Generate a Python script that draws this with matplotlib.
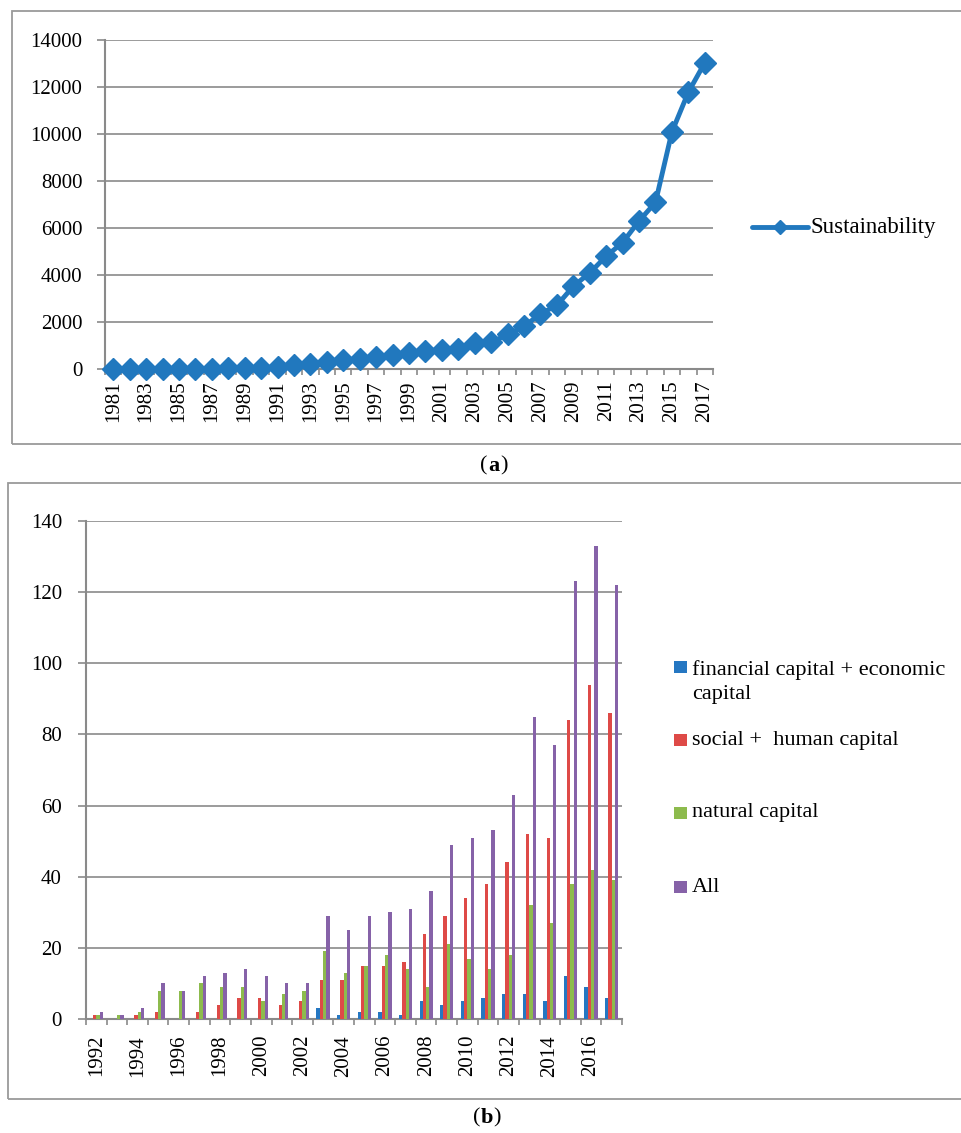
import matplotlib
matplotlib.use("Agg")
import matplotlib.pyplot as plt
import numpy as np
from matplotlib.patches import Rectangle
from matplotlib.lines import Line2D

plt.rcParams['font.family'] = ['Liberation Serif', 'DejaVu Serif']

# ---------------- data ----------------
years_a = [1981, 1982, 1983, 1984, 1985, 1986, 1987, 1988, 1989, 1990,
           1991, 1992, 1993, 1994, 1995, 1996, 1997, 1998, 1999, 2000,
           2001, 2002, 2003, 2004, 2005, 2006, 2007, 2008, 2009, 2010,
           2011, 2012, 2013, 2014, 2015, 2016, 2017]
sustainability = [5, 8, 10, 12, 15, 18, 20, 25, 30, 40,
                  100, 170, 210, 290, 390, 430, 530, 600, 670, 780,
                  810, 850, 1110, 1130, 1470, 1810, 2350, 2710, 3520, 4090,
                  4800, 5380, 6300, 7090, 10090, 11780, 13030]
yticks_a = [0, 2000, 4000, 6000, 8000, 10000, 12000, 14000]

years_b = [1992, 1993, 1994, 1995, 1996, 1997, 1998, 1999, 2000, 2001,
           2002, 2003, 2004, 2005, 2006, 2007, 2008, 2009, 2010, 2011,
           2012, 2013, 2014, 2015, 2016, 2017]
financial = [0, 0, 0, 0, 0, 0, 0, 0, 0, 0, 0, 3, 1, 2, 2, 1, 5, 4, 5, 6, 7, 7, 5, 12, 9, 6]
social = [1, 0, 1, 2, 0, 2, 4, 6, 6, 4, 5, 11, 11, 15, 15, 16, 24, 29, 34, 38, 44, 52, 51, 84, 94, 86]
natural = [1, 1, 2, 8, 8, 10, 9, 9, 5, 7, 8, 19, 13, 15, 18, 14, 9, 21, 17, 14, 18, 32, 27, 38, 42, 39]
all_caps = [2, 1, 3, 10, 8, 12, 13, 14, 12, 10, 10, 29, 25, 29, 30, 31, 36, 49, 51, 53, 63, 85, 77, 123, 133, 122]
yticks_b = [0, 20, 40, 60, 80, 100, 120, 140]
series_names = ['financial capital + economic\ncapital', 'social +  human capital',
                'natural capital', 'All']

# ---------------- style ----------------
W, H = 961, 1133
GRID = '#8a8a8a'
BOX = '#9a9a9a'
LINE_C = '#2178BE'
BAR_COLORS = ['#2577C2', '#DE4A47', '#8DBB4D', '#8662A8']
FS = 15

fig = plt.figure(figsize=(W / 100, H / 100), dpi=100)

def fx(x):
    return x / W

def fy(y):
    return 1 - y / H

# panel boxes (right edges run off the page as in the reference)
fig.patches.append(Rectangle((fx(12), fy(444)), fx(980) - fx(12), fy(11) - fy(444),
                             transform=fig.transFigure, fill=False, edgecolor=BOX, lw=1.3))
fig.patches.append(Rectangle((fx(8), fy(1099)), fx(980) - fx(8), fy(483) - fy(1099),
                             transform=fig.transFigure, fill=False, edgecolor=BOX, lw=1.3))

def style_axes(ax):
    for s in ['top', 'right']:
        ax.spines[s].set_visible(False)
    for s in ['left', 'bottom']:
        ax.spines[s].set_color(GRID)
        ax.spines[s].set_linewidth(1.5)
    ax.yaxis.grid(True, color=GRID, lw=1.2)
    ax.set_axisbelow(True)
    ax.tick_params(axis='y', which='major', length=5.8, width=1.2, color=GRID,
                   labelsize=FS, pad=10.5)
    ax.tick_params(axis='x', which='minor', length=4.5, width=1.2, color=GRID)

def panel_label(xc, y, letter):
    fig.text(fx(xc - 6.5), fy(y), '(', fontsize=16, ha='right', va='center')
    fig.text(fx(xc), fy(y), letter, fontsize=16, ha='center', va='center', fontweight='bold')
    fig.text(fx(xc + 6.5), fy(y), ')', fontsize=16, ha='left', va='center')

# ---------------- panel (a) ----------------
axa = fig.add_axes([fx(105), fy(369), fx(713) - fx(105), fy(40) - fy(369)])
xa = np.arange(len(years_a))
axa.plot(xa, sustainability, color=LINE_C, lw=3.5, marker='D', markersize=11.5,
         markerfacecolor=LINE_C, markeredgecolor=LINE_C, clip_on=False, zorder=3)
axa.set_xlim(-0.5, len(years_a) - 0.5)
axa.set_ylim(0, 14000)
axa.set_yticks(yticks_a)
axa.set_yticklabels([str(v) for v in yticks_a])
axa.set_xticks(xa[::2])
axa.set_xticklabels([str(y) for y in years_a[::2]], rotation=90, fontsize=FS)
axa.set_xticks(np.arange(len(years_a) + 1) - 0.5, minor=True)
axa.tick_params(axis='x', which='major', length=0, pad=8)
style_axes(axa)

# legend (a)
ly = fy(227)
fig.lines.append(Line2D([fx(752), fx(808)], [ly, ly], transform=fig.transFigure,
                        color=LINE_C, lw=3.5, solid_capstyle='round'))
fig.lines.append(Line2D([fx(780)], [ly], transform=fig.transFigure, color=LINE_C,
                        marker='D', markersize=7, lw=0))
fig.text(fx(811), ly, 'Sustainability', fontsize=16.5, va='center', ha='left')

panel_label(494, 466, 'a')

# ---------------- panel (b) ----------------
axb = fig.add_axes([fx(86), fy(1019), fx(622) - fx(86), fy(521) - fy(1019)])
xb = np.arange(len(years_b))
bw = 0.16
all_series = [financial, social, natural, all_caps]
for i, (vals, c) in enumerate(zip(all_series, BAR_COLORS)):
    axb.bar(xb + (i - 1.5) * bw, vals, width=bw, color=c, edgecolor='none', zorder=3)
axb.set_xlim(-0.5, len(years_b) - 0.5)
axb.set_ylim(0, 140)
axb.set_yticks(yticks_b)
axb.set_yticklabels([str(v) for v in yticks_b])
axb.set_xticks(xb[::2])
axb.set_xticklabels([str(y) for y in years_b[::2]], rotation=90, fontsize=FS)
axb.set_xticks(np.arange(len(years_b) + 1) - 0.5, minor=True)
axb.tick_params(axis='x', which='major', length=0, pad=11.5)
style_axes(axb)
axb.tick_params(axis='y', pad=11.5)

# legend (b)
leg_y = [667, 740, 813, 887]
for name, c, y in zip(series_names, BAR_COLORS, leg_y):
    fig.patches.append(Rectangle((fx(674), fy(y + 6)), fx(12.5), fy(y - 6.5) - fy(y + 6),
                                 transform=fig.transFigure, facecolor=c, edgecolor='none'))
    if '\n' in name:
        fig.text(fx(692), fy(y + 15), name, fontsize=16, ha='left', va='center',
                 linespacing=1.35)
    else:
        fig.text(fx(692), fy(y), name, fontsize=16, ha='left', va='center')

panel_label(487, 1118, 'b')

fig.savefig('out.png', dpi=100)
